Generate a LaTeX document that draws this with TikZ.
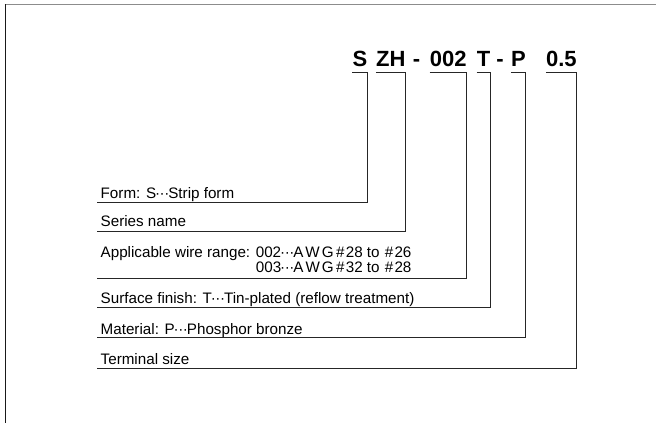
\documentclass[tikz,border=0pt]{standalone}
\usepackage{fontspec}
\setmainfont{Liberation Sans}
\newcommand\mdots{\makebox[0.8em]{\textperiodcentered\kern-0.03em\textperiodcentered\kern-0.03em\textperiodcentered}}
\newcommand\awg{A\kern2pt W\kern2pt G\kern2.5pt\#\kern1.2pt}
\newcommand\hsh{\kern1pt\#\kern1.2pt}
\begin{document}
\begin{tikzpicture}[x=1pt,y=-1pt,
  code/.style={font=\fontsize{22}{26}\selectfont\bfseries, inner sep=0pt, anchor=base},
  lbl/.style={font=\fontsize{15.2}{17}\selectfont, inner sep=0pt, anchor=base west},
  br/.style={draw=black!85, line width=1pt},
  frame/.style={line width=1.2pt}]
\useasboundingbox (0,0) rectangle (656,423);
% frame
\draw[frame, draw=gray!90] (4.5,4.5) -- (656,4.5);
\draw[frame, draw=black!90] (5.2,4) -- (5.2,423);
% code parts
\node[code, minimum width=14.3pt] (cS) at (359.9,66.5) {S};
\node[code, minimum width=29.5pt] (cZH) at (390.75,66.5) {ZH};
\node[code] (d1) at (416.5,66.5) {-};
\node[code, minimum width=34.5pt] (c002) at (448.25,66.5) {002};
\node[code, minimum width=13.8pt] (cT) at (483.6,66.5) {T};
\node[code] (d2) at (500,66.5) {-};
\node[code, minimum width=13.5pt] (cP) at (518.45,66.5) {P};
\node[code, minimum width=28.8pt] (c05) at (561.4,66.5) {0.5};
% labels
\node[lbl] (lForm) at (100.5,198) {Form: S\mdots Strip form};
\node[lbl] (lSer) at (100.5,226.5) {Series name};
\node[lbl] (lApp) at (100.5,257.3) {Applicable wire range: 002\mdots\awg28 to \hsh26};
\node[lbl] (lApp2) at (100.5,272.8) {\phantom{Applicable wire range: }003\mdots\awg32 to \hsh28};
\node[lbl] (lSur) at (100.5,303.5) {Surface finish: T\mdots Tin-plated (reflow treatment)};
\node[lbl] (lMat) at (100.5,334) {Material: P\mdots Phosphor bronze};
\node[lbl] (lTer) at (100.5,364) {Terminal size};
% line ends
\coordinate (eForm) at (97,202.7);
\coordinate (eSer) at (97,231.7);
\coordinate (eApp) at (97,278.3);
\coordinate (eSur) at (97,307.7);
\coordinate (eMat) at (97,337.7);
\coordinate (eTer) at (97,368.3);
% brackets
\draw[br] (cS.west |- 0,72) -- (cS.east |- 0,72) |- (eForm);
\draw[br] (cZH.west |- 0,72) -- (cZH.east |- 0,72) |- (eSer);
\draw[br] (c002.west |- 0,72) -- (c002.east |- 0,72) |- (eApp);
\draw[br] (cT.west |- 0,72) -- (cT.east |- 0,72) |- (eSur);
\draw[br] (cP.west |- 0,72) -- (cP.east |- 0,72) |- (eMat);
\draw[br] (c05.west |- 0,72) -- (c05.east |- 0,72) |- (eTer);
\end{tikzpicture}
\end{document}
